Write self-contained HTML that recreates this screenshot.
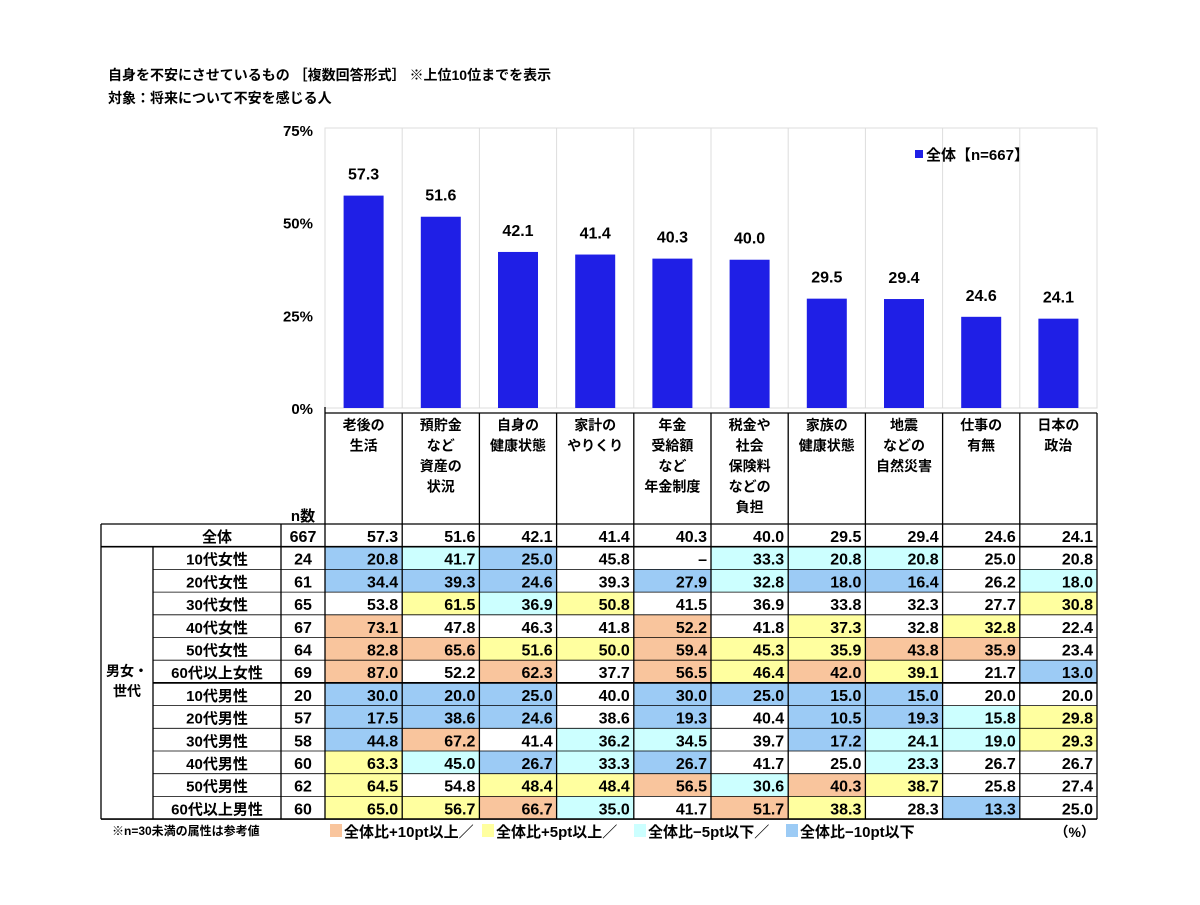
<!DOCTYPE html>
<html><head><meta charset="utf-8"><style>
body{margin:0;background:#fff}
svg text{font-family:"Liberation Sans","Noto Sans CJK JP",sans-serif;font-weight:bold;fill:#000}
</style></head><body>
<svg id="c" width="1200" height="900" viewBox="0 0 1200 900">
<text x="108" y="80" font-size="14">自身を不安にさせているもの ［複数回答形式］ ※上位10位までを表示</text>
<text x="108" y="103" font-size="14">対象：将来について不安を感じる人</text>
</svg>
<script>
const categories=["老後の|生活","預貯金|など|資産の|状況","自身の|健康状態","家計の|やりくり","年金|受給額|など|年金制度","税金や|社会|保険料|などの|負担","家族の|健康状態","地震|などの|自然災害","仕事の|有無","日本の|政治"];
const totals=[57.3,51.6,42.1,41.4,40.3,40.0,29.5,29.4,24.6,24.1];
const yTicks=[0,25,50,75];
const rowLabels=["10代女性","20代女性","30代女性","40代女性","50代女性","60代以上女性","10代男性","20代男性","30代男性","40代男性","50代男性","60代以上男性"];
const rowN=[24,61,65,67,64,69,20,57,58,60,62,60];
const r1=[20.8,41.7,25.0,45.8,null,33.3,20.8,20.8,25.0,20.8];
const r2=[34.4,39.3,24.6,39.3,27.9,32.8,18.0,16.4,26.2,18.0];
const r3=[53.8,61.5,36.9,50.8,41.5,36.9,33.8,32.3,27.7,30.8];
const r4=[73.1,47.8,46.3,41.8,52.2,41.8,37.3,32.8,32.8,22.4];
const r5=[82.8,65.6,51.6,50.0,59.4,45.3,35.9,43.8,35.9,23.4];
const r6=[87.0,52.2,62.3,37.7,56.5,46.4,42.0,39.1,21.7,13.0];
const r7=[30.0,20.0,25.0,40.0,30.0,25.0,15.0,15.0,20.0,20.0];
const r8=[17.5,38.6,24.6,38.6,19.3,40.4,10.5,19.3,15.8,29.8];
const r9=[44.8,67.2,41.4,36.2,34.5,39.7,17.2,24.1,19.0,29.3];
const r10=[63.3,45.0,26.7,33.3,26.7,41.7,25.0,23.3,26.7,26.7];
const r11=[64.5,54.8,48.4,48.4,56.5,30.6,40.3,38.7,25.8,27.4];
const r12=[65.0,56.7,66.7,35.0,41.7,51.7,38.3,28.3,13.3,25.0];
const rows=[r1,r2,r3,r4,r5,r6,r7,r8,r9,r10,r11,r12];

const svg=document.getElementById('c');
const NS='http://www.w3.org/2000/svg';
function mk(tag,attrs,txt){const e=document.createElementNS(NS,tag);for(const k in attrs)e.setAttribute(k,attrs[k]);if(txt!==undefined)e.textContent=txt;svg.appendChild(e);return e;}
const X0=325,CW=77.2,Y0=408,YT=130,YMAX=75;
const xCol=i=>X0+i*CW;
const yv=v=>Y0-(v/YMAX)*(Y0-YT);
// plot grid
let g;
g=mk('rect',{x:X0,y:YT-2,width:CW*10,height:Y0-YT+2,fill:'none',stroke:'#ddd','stroke-width':1});


for(let i=1;i<10;i++){g=mk('line',{x1:xCol(i),x2:xCol(i),y1:YT-2,y2:Y0,stroke:'#ddd'});

}
yTicks.forEach(t=>{g=mk('text',{x:313,y:yv(t)+6,'font-size':15,'text-anchor':'end','font-weight':'normal'},t+'%');

});
totals.forEach((v,i)=>{
 const cx=xCol(i)+CW/2;
 g=mk('rect',{x:cx-20,y:yv(v),width:40,height:Y0-yv(v),fill:'#1f1fe6'});
 
 
 g=mk('text',{x:cx,y:yv(v)-16,'font-size':16,'text-anchor':'middle','font-weight':'normal'},v.toFixed(1));
 
 
});
g=mk('rect',{x:915,y:150,width:8,height:8,fill:'#1f1fe6'});


g=mk('text',{x:926,y:160,'font-size':15},'全体【n=667】');


// table
const HT=413,RT=524,RH=22.7,XR=X0+CW*10;
const cellColor=(v,t)=>{if(v===null)return '#fff';const d=v-t;if(d>=10)return '#f9c59d';if(d>=5)return '#ffff9f';if(d<=-10)return '#9ccbf5';if(d<=-5)return '#ccffff';return '#fff';};
rows.forEach((r,ri)=>{const y=RT+RH*(ri+1);
 r.forEach((v,ci)=>{g=mk('rect',{x:xCol(ci),y:y,width:CW,height:RH,fill:cellColor(v,totals[ci])});
 
 });});
// header texts
categories.forEach((c,i)=>{c.split('|').forEach((l,li)=>{g=mk('text',{x:xCol(i)+CW/2,y:430+li*20.5,'font-size':14,'text-anchor':'middle'},l);
 
 });});
g=mk('text',{x:303,y:521,'font-size':15,'text-anchor':'middle'},'n数');


// total row
g=mk('text',{x:217,y:RT+18,'font-size':15,'text-anchor':'middle'},'全体');


g=mk('text',{x:303,y:RT+18,'font-size':16,'text-anchor':'middle','font-weight':'normal'},'667');


totals.forEach((v,i)=>{g=mk('text',{x:xCol(i+1)-4,y:RT+18,'font-size':16,'text-anchor':'end','font-weight':'normal'},v.toFixed(1));
 
 });
rows.forEach((r,ri)=>{const y=RT+RH*(ri+1);
 g=mk('text',{x:217,y:y+18,'font-size':15,'text-anchor':'middle'},rowLabels[ri]);
 
 
 g=mk('text',{x:303,y:y+18,'font-size':16,'text-anchor':'middle','font-weight':'normal'},String(rowN[ri]));
 
 
 r.forEach((v,ci)=>{g=mk('text',{x:xCol(ci+1)-4,y:y+18,'font-size':16,'text-anchor':'end','font-weight':'normal'},v===null?'–':v.toFixed(1));
 
 });
});
g=mk('text',{x:127,y:676,'font-size':14,'text-anchor':'middle'},'男女・');


mk('text',{x:127,y:696,'font-size':14,'text-anchor':'middle'},'世代');
// table lines
const BOT=RT+RH*13;
const L=(x1,y1,x2,y2,w)=>{const e=mk('line',{x1,y1,x2,y2,stroke:'#000','stroke-width':w||1.3});};
L(X0,HT,XR,HT);
L(101,RT,XR,RT);L(101,RT+RH,XR,RT+RH,1.6);L(153,RT+RH*7,XR,RT+RH*7,1.8);L(101,BOT,XR,BOT,1.6);
for(let i=2;i<13;i++){if(i!==7)L(153,RT+RH*i,XR,RT+RH*i,0.8);}
L(101,RT,101,BOT);L(153,RT+RH,153,BOT);L(281,RT,281,BOT);
for(let i=0;i<=10;i++)L(xCol(i),i===0?HT-6:HT,xCol(i),BOT);
// footer
g=mk('text',{x:112,y:835,'font-size':12},'※n=30未満の属性は参考値');


const leg=[['#f9c59d','全体比+10pt以上／'],['#ffff9f','全体比+5pt以上／'],['#ccffff','全体比−5pt以下／'],['#9ccbf5','全体比−10pt以下']];
let lx=330;
leg.forEach(([c,t])=>{g=mk('rect',{x:lx,y:824,width:12,height:13,fill:c});
 
 
 g=mk('text',{x:lx+14,y:837,'font-size':15},t);
 
 
 lx+=152;});
g=mk('text',{x:1095,y:837,'font-size':14,'text-anchor':'end'},'（%）');


</script>
</body></html>
